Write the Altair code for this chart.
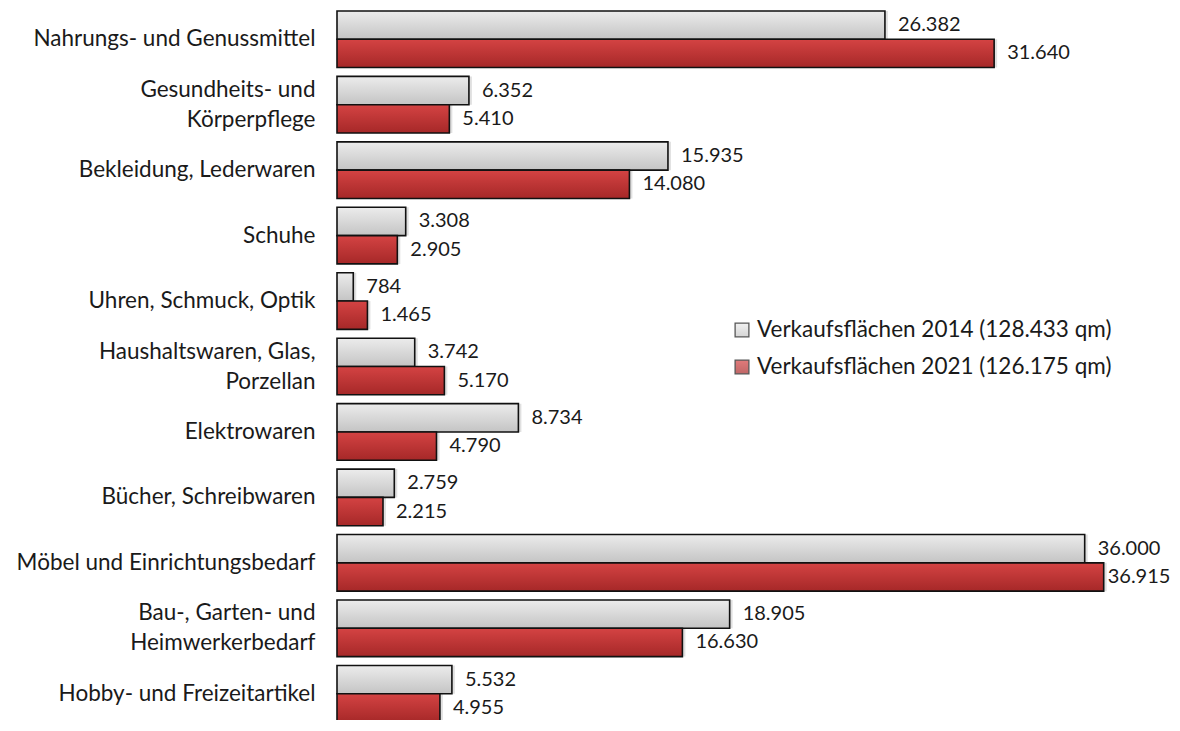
import altair as alt
import pandas as pd

categories = [
    "Nahrungs- und Genussmittel",
    "Gesundheits- und|Körperpflege",
    "Bekleidung, Lederwaren",
    "Schuhe",
    "Uhren, Schmuck, Optik",
    "Haushaltswaren, Glas,|Porzellan",
    "Elektrowaren",
    "Bücher, Schreibwaren",
    "Möbel und Einrichtungsbedarf",
    "Bau-, Garten- und|Heimwerkerbedarf",
    "Hobby- und Freizeitartikel",
]
values_2014 = [26382, 6352, 15935, 3308, 784, 3742, 8734, 2759, 36000, 18905, 5532]
values_2021 = [31640, 5410, 14080, 2905, 1465, 5170, 4790, 2215, 36915, 16630, 4955]
series = ["Verkaufsflächen 2014 (128.433 qm)", "Verkaufsflächen 2021 (126.175 qm)"]

rows = []
for c, a, b in zip(categories, values_2014, values_2021):
    rows.append({"cat": c, "series": series[0], "value": a})
    rows.append({"cat": c, "series": series[1], "value": b})
df = pd.DataFrame(rows)

FONT = "Lato"
FS = 22.5
VFS = 20

grad_gray = alt.Gradient(
    gradient="linear", x1=0, y1=0, x2=0, y2=1,
    stops=[alt.GradientStop(color="#ececec", offset=0),
           alt.GradientStop(color="#c4c4c4", offset=1)],
)
grad_red = alt.Gradient(
    gradient="linear", x1=0, y1=0, x2=0, y2=1,
    stops=[alt.GradientStop(color="#d44343", offset=0),
           alt.GradientStop(color="#a62828", offset=1)],
)

is2014 = f"datum.series == '{series[0]}'"

y_scale = alt.Scale(domain=categories, paddingInner=0.135, paddingOuter=0.045, range=[0, 717])
y_enc = alt.Y(
    "cat:N", sort=categories, title=None, scale=y_scale,
    axis=alt.Axis(domain=False, ticks=False, labelFont=FONT, labelFontSize=FS,
                  labelColor="#1a1a1a", labelPadding=22, labelLineHeight=30,
                  labelExpr="split(datum.label, '|')", labelLimit=400,
                  labelOffset={"condition": {"test": "indexof(datum.value, '|') >= 0", "value": -15},
                               "value": 0}),
)
y_noaxis = alt.Y("cat:N", sort=categories, title=None, scale=y_scale, axis=None)
x_enc = alt.X("value:Q", axis=None, scale=alt.Scale(domain=[0, 39000], nice=False))
yoff = alt.YOffset("series:N", sort=series,
                   scale=alt.Scale(domain=series, paddingInner=0, paddingOuter=0))

base = alt.Chart(df)

shadow = base.mark_bar(fill="#000000", opacity=0.12, xOffset=3, yOffset=3).encode(
    y=y_noaxis, x=x_enc, yOffset=yoff,
)

bars = base.mark_bar(stroke="#111111", strokeWidth=1.6, cornerRadius=0).encode(
    y=y_enc, x=x_enc, yOffset=yoff,
    fill=alt.condition(is2014, alt.value(grad_gray), alt.value(grad_red)),
)

fmt = base.transform_calculate(lbl="replace(format(datum.value, ','), ',', '.')")

labels = fmt.transform_filter("datum.value < 36500").mark_text(
    align="left", baseline="middle", dx=13, font=FONT, fontSize=VFS, color="#1a1a1a"
).encode(y=y_noaxis, x=x_enc, yOffset=yoff, text="lbl:N")

labels_end = fmt.transform_filter("datum.value >= 36500").mark_text(
    align="left", baseline="middle", dx=4, font=FONT, fontSize=VFS, color="#1a1a1a"
).encode(y=y_noaxis, x=x_enc, yOffset=yoff, text="lbl:N")

leg_df = pd.DataFrame({"series": series, "row": [0, 1]})
leg_y = alt.Y("row:Q", axis=None, scale=alt.Scale(domain=[0, 1], range=[322, 359]))
leg_sym = alt.Chart(leg_df).mark_square(size=190, stroke="#111111", strokeWidth=1.3).encode(
    x=alt.value(405), y=leg_y,
    fill=alt.condition(is2014, alt.value(grad_gray), alt.value(grad_red)),
)
leg_txt = alt.Chart(leg_df).mark_text(align="left", baseline="middle", font=FONT,
                                       fontSize=FS, color="#1a1a1a").encode(
    x=alt.value(420), y=leg_y, text="series:N",
)

chart = alt.layer(shadow, bars, labels, labels_end, leg_sym, leg_txt).resolve_scale(
    y="independent"
).properties(
    width=810, height=712,
    autosize=alt.AutoSizeParams(type="none"),
    padding={"left": 329, "top": 0, "right": 25, "bottom": 0},
).configure_view(stroke=None)

chart.save("out.html", embed_options={"renderer": "svg", "actions": False})
